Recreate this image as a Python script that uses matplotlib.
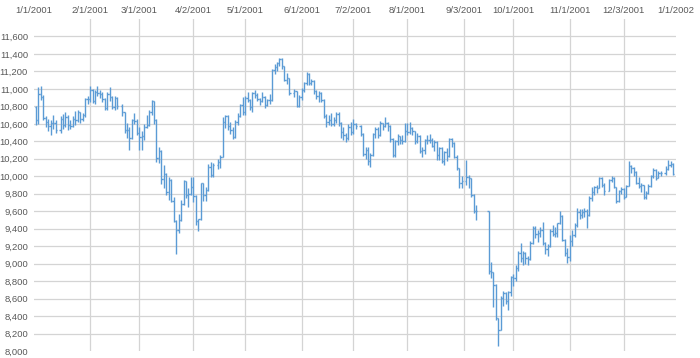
import numpy as np
import pandas as pd
import matplotlib
matplotlib.use("Agg")
import matplotlib.pyplot as plt

# giorni di borsa 2001 (feriali meno festivita' e chiusura 11-14 settembre)
holidays = ["2001-01-01", "2001-01-15", "2001-02-19", "2001-04-13", "2001-05-28",
            "2001-07-04", "2001-09-03", "2001-09-11", "2001-09-12", "2001-09-13",
            "2001-09-14", "2001-11-22", "2001-12-25"]
first_open = 10788

closes = [
    # gen
    10646, 10946, 10912, 10662, 10621, 10573, 10604, 10610, 10525, 10653, 10584,
    10678, 10588, 10578, 10650, 10647, 10730, 10660, 10702, 10881, 10887,
    # feb
    10984, 10864, 10966, 10957, 10947, 10881, 10781, 10947, 10903, 10795, 10891,
    10800, 10731, 10527, 10527, 10442, 10643, 10637, 10495,
    # mar
    10450, 10466, 10562, 10591, 10730, 10858, 10645, 10208, 10291, 9973, 10031,
    9823, 9959, 9721, 9487, 9389, 9505, 9688, 9948, 9785, 9799, 9879,
    # apr
    9778, 9486, 9515, 9918, 9791, 9845, 10103, 10013, 10127, 10159, 10217,
    10616, 10694, 10580, 10532, 10454, 10625, 10692, 10810, 10735,
    # mag
    10898, 10877, 10797, 10951, 10935, 10884, 10867, 10910, 10821, 10877, 10873,
    11216, 11249, 11302, 11338, 11257, 11106, 11122, 10955, 10974, 10806, 10912,
    # giu
    10990, 11062, 11176, 11070, 11091, 10977, 10922, 10948, 10872, 10690, 10624,
    10645, 10597, 10647, 10715, 10605, 10504, 10472, 10435, 10566, 10502,
    # lug
    10594, 10571, 10481, 10253, 10299, 10176, 10241, 10479, 10539, 10472, 10607,
    10574, 10610, 10577, 10424, 10240, 10406, 10456, 10417, 10401, 10523,
    # ago
    10510, 10551, 10513, 10401, 10459, 10293, 10299, 10416, 10416, 10413, 10346,
    10393, 10241, 10320, 10174, 10277, 10229, 10423, 10382, 10222, 10091, 9920, 9950,
    # set
    9997, 9976, 9783, 9606, 9606, 8921, 8903, 8759, 8376, 8236, 8604, 8660, 8567,
    8681, 8848,
    # ott
    8837, 8951, 9124, 9061, 9120, 9068, 9052, 9241, 9410, 9344, 9348, 9384, 9233,
    9163, 9204, 9377, 9340, 9346, 9463, 9545, 9270, 9122, 9075,
    # nov
    9264, 9324, 9441, 9591, 9554, 9588, 9608, 9554, 9751, 9824, 9872, 9867, 9976,
    9901, 9835, 9960, 9983, 9873, 9712, 9829, 9852,
    # dic
    9764, 9893, 10114, 10099, 10049, 9921, 9888, 9896, 9766, 9811, 9892, 9998,
    10070, 9985, 10035, 10035, 10088, 10131, 10137, 10022,
]

highs = [
    10800, 11019, 11035, 10930, 10690, 10660, 10640, 10700, 10640, 10690, 10710,
    10740, 10700, 10640, 10690, 10750, 10760, 10740, 10720, 10900, 10920,
    11030, 11000, 10990, 11030, 10990, 10970, 10900, 10960, 11020, 10920, 10920,
    10910, 10830, 10740, 10610, 10560, 10660, 10720, 10660,
    10560, 10520, 10600, 10700, 10760, 10870, 10860, 10650, 10330, 10300, 10130,
    10040, 9990, 9970, 9760, 9500, 9570, 9730, 9960, 9950, 9860, 9990,
    9990, 9783, 9516, 9925, 9920, 9880, 10145, 10164, 10150, 10200, 10240,
    10680, 10697, 10700, 10620, 10560, 10640, 10720, 10830, 10905,
    10920, 10960, 10880, 10970, 10990, 10950, 10900, 10960, 10920, 10890, 10940,
    11230, 11290, 11310, 11350, 11350, 11260, 11180, 11130, 11000, 10980, 10930,
    11010, 11080, 11190, 11180, 11110, 11100, 10990, 10980, 10960, 10880, 10710,
    10700, 10720, 10680, 10740, 10730, 10620, 10560, 10500, 10600, 10620,
    10660, 10610, 10590, 10490, 10330, 10340, 10270, 10490, 10560, 10560, 10630,
    10610, 10680, 10620, 10590, 10440, 10420, 10480, 10460, 10470, 10610,
    10610, 10620, 10560, 10520, 10500, 10470, 10340, 10430, 10470, 10480, 10440,
    10410, 10400, 10340, 10340, 10290, 10320, 10440, 10440, 10390, 10240, 10100, 10000,
    10190, 10010, 9980, 9800, 9675, 9606, 9015, 8905, 8770, 8380, 8626, 8690, 8680,
    8690, 8855,
    8880, 8980, 9140, 9240, 9140, 9130, 9090, 9260, 9428, 9427, 9380, 9420, 9480,
    9250, 9220, 9400, 9446, 9420, 9470, 9600, 9560, 9280, 9180,
    9332, 9380, 9460, 9637, 9620, 9620, 9640, 9620, 9770, 9880, 9890, 9900, 9990,
    9990, 9920, 9970, 10000, 9990, 9880, 9840, 9880,
    9860, 9900, 10180, 10130, 10110, 10060, 9990, 9920, 9900, 9830, 9910, 10010,
    10100, 10080, 10060, 10060, 10120, 10190, 10170, 10150,
]

lows = [
    10590, 10600, 10870, 10640, 10560, 10520, 10470, 10540, 10490, 10490, 10540,
    10560, 10530, 10540, 10560, 10590, 10620, 10610, 10630, 10680, 10830,
    10850, 10840, 10830, 10920, 10900, 10850, 10760, 10760, 10860, 10770, 10760,
    10770, 10690, 10490, 10440, 10300, 10430, 10600, 10470,
    10300, 10300, 10420, 10550, 10580, 10700, 10600, 10165, 10150, 9910, 9870,
    9780, 9730, 9700, 9478, 9106, 9345, 9490, 9670, 9750, 9650, 9780,
    9706, 9440, 9375, 9500, 9720, 9720, 9830, 9990, 9990, 10080, 10100,
    10215, 10550, 10530, 10480, 10430, 10440, 10590, 10680, 10700,
    10700, 10850, 10760, 10740, 10900, 10860, 10820, 10850, 10780, 10800, 10830,
    10860, 11170, 11210, 11260, 11230, 11090, 11060, 10930, 10910, 10790, 10790,
    10870, 10960, 11040, 11040, 11040, 10940, 10880, 10850, 10850, 10670, 10560,
    10590, 10570, 10570, 10610, 10580, 10440, 10420, 10390, 10410, 10470,
    10480, 10540, 10460, 10230, 10200, 10130, 10110, 10230, 10440, 10440, 10460,
    10530, 10560, 10520, 10390, 10217, 10220, 10360, 10370, 10370, 10390,
    10470, 10480, 10470, 10370, 10380, 10270, 10220, 10250, 10370, 10380, 10330,
    10290, 10190, 10190, 10150, 10130, 10180, 10220, 10340, 10210, 10070, 9866, 9870,
    9904, 9870, 9760, 9580, 9504, 8883, 8840, 8500, 8350, 8062, 8244, 8520, 8540,
    8473, 8626,
    8740, 8800, 8920, 9020, 8980, 9000, 8990, 9040, 9230, 9294, 9250, 9300, 9217,
    9110, 9084, 9190, 9320, 9300, 9310, 9450, 9260, 9084, 9010,
    9027, 9200, 9300, 9420, 9510, 9520, 9530, 9410, 9540, 9720, 9790, 9810, 9860,
    9880, 9790, 9830, 9930, 9860, 9690, 9700, 9800,
    9740, 9760, 9890, 10040, 10000, 9910, 9860, 9820, 9740, 9740, 9800, 9880,
    9980, 9960, 9980, 10000, 10020, 10070, 10110, 10010,
]

tick_dates = ["2001-01-01", "2001-02-01", "2001-03-01", "2001-04-02", "2001-05-01",
              "2001-06-01", "2001-07-02", "2001-08-01", "2001-09-03", "2001-10-01",
              "2001-11-01", "2001-12-03", "2002-01-01"]
tick_labels = ["1/1/2001", "2/1/2001", "3/1/2001", "4/2/2001", "5/1/2001", "6/1/2001",
               "7/2/2001", "8/1/2001", "9/3/2001", "10/1/2001", "11/1/2001",
               "12/3/2001", "1/1/2002"]
y_ticks = list(range(8000, 11601, 200))

# costruzione tabella OHLC
days = pd.bdate_range("2001-01-01", "2001-12-31")
days = days[~days.isin(pd.to_datetime(holidays))]
df = pd.DataFrame({"date": days, "close": closes, "high": highs, "low": lows})
# apertura = chiusura del giorno precedente (come nella serie originale)
df["open"] = df["close"].shift(1).fillna(first_open)
# asse a soli giorni feriali
df["x"] = np.busday_count("2001-01-01", df["date"].values.astype("datetime64[D]"))
tick_x = np.busday_count("2001-01-01", np.array(tick_dates, dtype="datetime64[D]"))

blue = "#5b9bd5"
grid_c = "#d4d4d4"
txt_c = "#595959"
plt.rcParams["font.family"] = ["Liberation Sans", "DejaVu Sans"]

fig = plt.figure(figsize=(7.0, 3.58), dpi=100)
ax = fig.add_axes([33.5 / 700, 1 - 351 / 358, (675.5 - 33.5) / 700, (351 - 19) / 358])

ax.vlines(df["x"], df["low"], df["high"], color=blue, lw=1.0)
ax.hlines(df["open"], df["x"] - 0.5, df["x"], color=blue, lw=1.0)
ax.hlines(df["close"], df["x"], df["x"] + 0.5, color=blue, lw=1.0)

ax.set_xlim(0, tick_x[-1])
ax.set_ylim(8000, 11800)
ax.set_xticks(tick_x)
ax.set_xticklabels(tick_labels)
ax.set_yticks(y_ticks)
ax.set_yticklabels([f"{v:,}" for v in y_ticks])
ax.xaxis.tick_top()
ax.tick_params(axis="both", length=0, labelsize=6.8, colors=txt_c)
ax.tick_params(axis="x", pad=3)
ax.tick_params(axis="y", pad=4)

ax.grid(True, color=grid_c, lw=0.9)
ax.set_axisbelow(True)
# nessuna griglia ai bordi
ax.get_xgridlines()[0].set_visible(False)
ax.get_xgridlines()[-1].set_visible(False)
ax.get_ygridlines()[0].set_visible(False)
for s in ax.spines.values():
    s.set_visible(False)

fig.savefig("out.png", dpi=100)
